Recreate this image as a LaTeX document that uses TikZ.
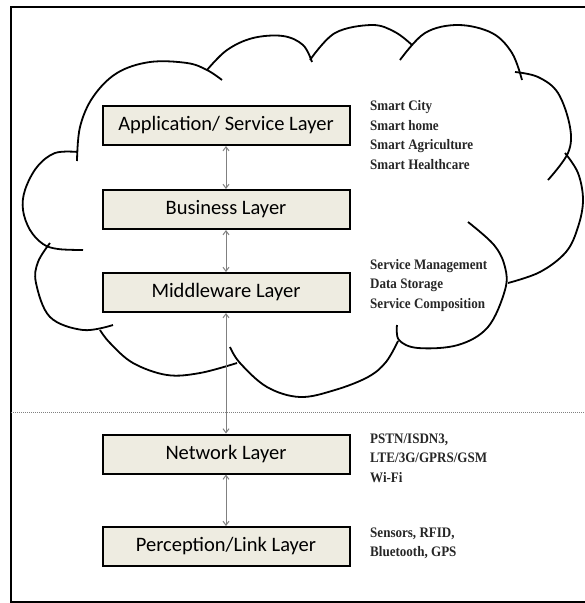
\documentclass[tikz,border=0pt]{standalone}
\usepackage{fontspec}
\newfontfamily\boxfont{Carlito}
\newfontfamily\listfont[FakeStretch=0.9]{Liberation Serif}
\usetikzlibrary{arrows.meta}
\definecolor{layerfill}{HTML}{EEECE1}
\tikzset{
  layer/.style={draw, line width=2pt, fill=layerfill, minimum width=247pt, minimum height=39pt, inner sep=0pt, font=\boxfont\fontsize{20.5}{24}\selectfont},
  uses/.style={align=left, anchor=west, inner sep=0pt, text=black!85, font=\listfont\bfseries\fontsize{14.5}{19.4}\selectfont},
  link/.style={gray, line width=1pt, {Straight Barb[length=4pt,width=6pt]}-{Straight Barb[length=4pt,width=6pt]}},
  lobe/.style={line width=1.8pt, smooth, tension=0.6},
}

\begin{document}
\begin{tikzpicture}[x=1pt,y=-1pt]
    \clip (0,0) rectangle (585,603);
    \draw[line width=1.8pt] (11,7) rectangle (600,602);
    % cloud
    \draw[lobe] plot coordinates {(77,161) (80,127) (93,97) (117,73) (150,62) (187,63) (207,70) (222,80)};
    \draw[lobe] plot coordinates {(207,70) (227,50) (253,38) (283,36) (303,45) (312,62)};
    \draw[lobe] plot coordinates {(310,60) (335,33) (372,25) (395,32) (412,45)};
    \draw[lobe] plot coordinates {(400,60) (425,33) (458,25) (492,33) (512,53) (522,80)};
    \draw[lobe] plot coordinates {(515,72) (538,77) (558,93) (570,127) (568,153) (548,180)};
    \draw[lobe] plot coordinates {(565,153) (578,173) (583,200) (578,227) (566,252) (540,272) (508,283)};
    \draw[lobe] plot coordinates {(468,222) (494,245) (505,267) (505,290) (488,327) (458,345) (418,348) (399,340) (397,325)};
    \draw[lobe] plot coordinates {(230,347) (240,363) (267,387) (300,397) (335,390) (368,377) (386,362) (398,341)};
    \draw[lobe] plot coordinates {(100,330) (110,343) (133,363) (167,375) (200,373) (237,363)};
    \draw[lobe] plot coordinates {(50,243) (38,262) (36,283) (50,317) (83,330) (113,325)};
    \draw[lobe] plot coordinates {(78,152) (55,153) (37,167) (25,190) (23,210) (30,230) (43,244) (58,249) (83,250)};
    % boundary
    \draw[gray, line width=0.9pt, dash pattern=on 1pt off 1pt] (11,412) -- (585,412);
    % layers
    \node[layer] (app) at (226,125.5) {Application/ Service Layer};
    \node[layer] (bus) at (226,209.5) {Business Layer};
    \node[layer] (mid) at (226,292.5) {Middleware Layer};
    \node[layer] (net) at (226,454) {Network Layer};
    \node[layer] (per) at (226,546.5) {Perception/Link Layer};
    \draw[link] (app) -- (bus);
    \draw[link] (bus) -- (mid);
    \draw[link] (mid) -- (net);
    \draw[link] (net) -- (per);
    % examples per layer
    \node[uses] (appuse) at (370,135) {Smart City\\Smart home\\Smart Agriculture\\Smart Healthcare};
    \node[uses] (miduse) at (370,285.5) {Service Management\\Data Storage\\Service Composition};
    \node[uses] (netuse) at (370,458) {PSTN/ISDN3,\\LTE/3G/GPRS/GSM\\Wi-Fi};
    \node[uses] (peruse) at (370,543.5) {Sensors, RFID,\\Bluetooth, GPS};
\end{tikzpicture}
\end{document}
